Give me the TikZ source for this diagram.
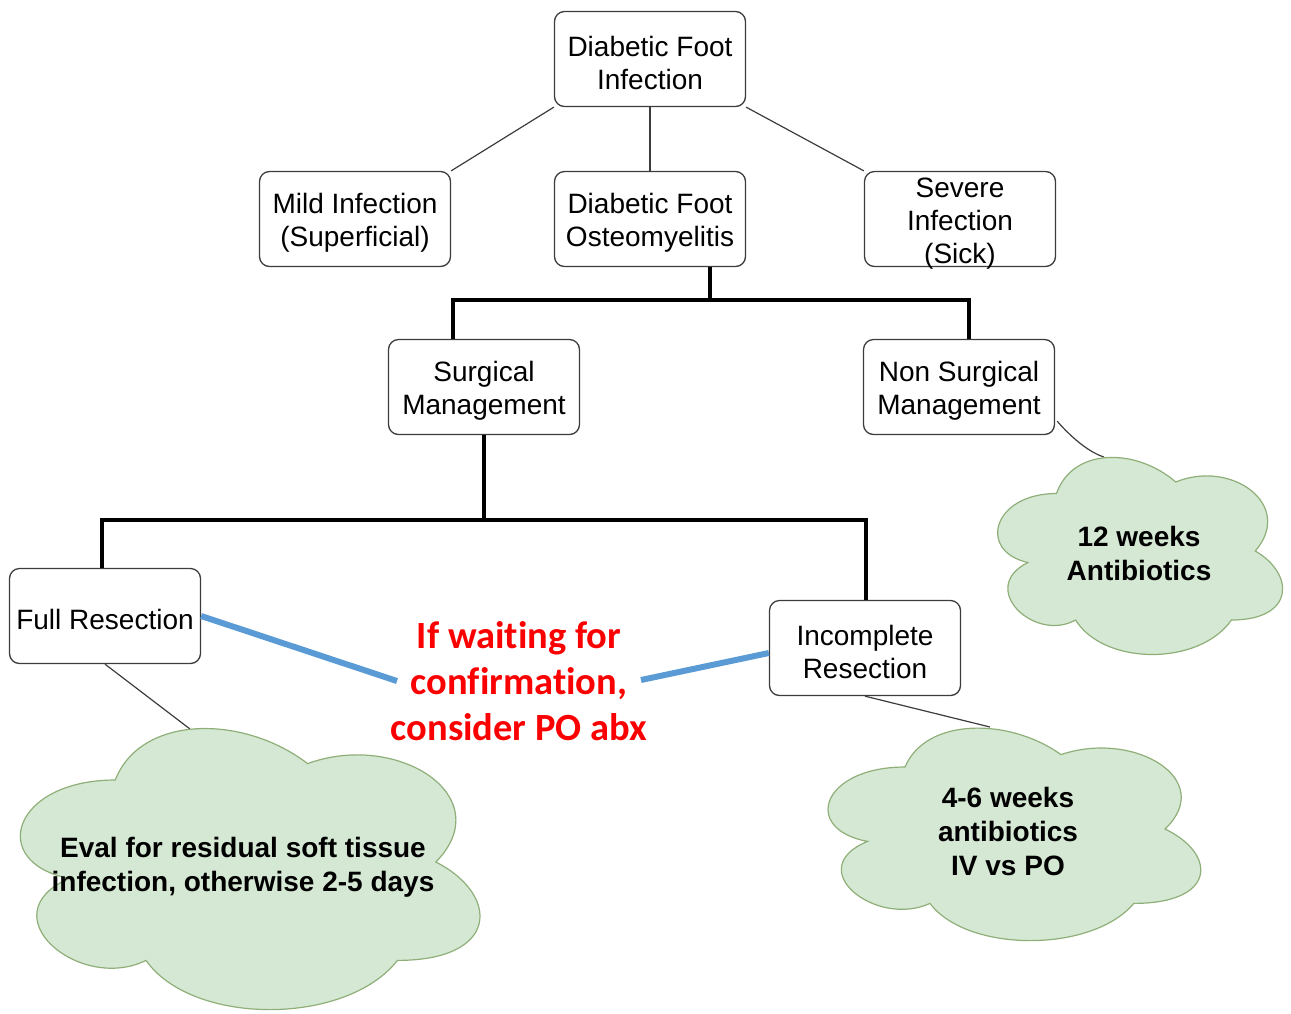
\documentclass[tikz,border=0pt]{standalone}
\usepackage{fontspec}
\setmainfont{Liberation Sans}
\newfontfamily\calibri[Ligatures=NoCommon]{Carlito}
\usetikzlibrary{calc,backgrounds}
\definecolor{boxline}{HTML}{3C3C3C}
\definecolor{cloudfill}{HTML}{D5E8D4}
\definecolor{cloudline}{HTML}{8FAF78}
\definecolor{bluelink}{HTML}{5B9BD5}
\definecolor{warnred}{HTML}{FA0000}
\newcommand\tp{\rule{0pt}{27.5pt}}
\tikzset{
  box/.style={draw=boxline, line width=1.3pt, rounded corners=10pt, fill=white,
    minimum width=191pt, minimum height=95pt, align=center, inner sep=0pt,
    font=\fontsize{28}{33}\selectfont},
  link/.style={draw=boxline, line width=1.2pt},
  bus/.style={draw=black, line width=4pt},
  cloudshape/.style={fill=cloudfill, draw=cloudline, line width=1.2pt},
  cloudtext/.style={align=center, inner sep=0pt, font=\fontsize{28}{34}\selectfont\bfseries},
  warntext/.style={text=warnred, align=center, inner sep=0pt,
    font=\calibri\bfseries\fontsize{38.5}{46}\selectfont},
  bluelinkstyle/.style={draw=bluelink, line width=6pt}
}
\newcommand\drawiocloud[4]{%
  \begin{scope}[shift={(#1,#2)},x=#3pt,y=-#4pt]
    \filldraw[cloudshape] (0.25,0.25)
      .. controls (0.05,0.25) and (0,0.5) .. (0.16,0.55)
      .. controls (0,0.66) and (0.18,0.9) .. (0.31,0.8)
      .. controls (0.4,1) and (0.7,1) .. (0.8,0.8)
      .. controls (1,0.8) and (1,0.6) .. (0.875,0.5)
      .. controls (1,0.3) and (0.8,0.1) .. (0.625,0.2)
      .. controls (0.5,0.05) and (0.3,0.05) .. (0.25,0.25) -- cycle;
  \end{scope}}
\begin{document}
\begin{tikzpicture}[x=1pt,y=-1pt]
\useasboundingbox (0,0) rectangle (1291,1013);
% clouds
\drawiocloud{977}{436}{318}{230}
\drawiocloud{-13}{698}{513}{328}
\drawiocloud{801}{705}{416}{248}
\node[cloudtext] (cl1) at (1139,553) {12 weeks\\Antibiotics};
\node[cloudtext] (cl2) at (243,867) {Eval for residual soft tissue\\infection, otherwise 2-5 days};
\node[cloudtext] (cl3) at (1008,831) {4-6 weeks\\antibiotics\\IV vs PO};
\coordinate (cl1top) at (1104,457);
\coordinate (cl2top) at (190,729);
\coordinate (cl3top) at (990,727);
% boxes
\node[box] (dfi)  at (650,59)  {\tp Diabetic Foot\\Infection};
\node[box] (mild) at (355,219) {\tp Mild Infection\\(Superficial)};
\node[box] (dfo)  at (650,219) {\tp Diabetic Foot\\Osteomyelitis};
\node[box] (sev)  at (960,219) {};
\node[font=\fontsize{28}{33}\selectfont, align=center, inner sep=0pt] (sevt) at (960,224) {Severe\\Infection\\(Sick)};
\node[box] (surg) at (484,387) {\tp Surgical\\Management};
\node[box] (nons) at (959,387) {\tp Non Surgical\\Management};
\node[box] (full) at (105,616) {\tp Full Resection};
\node[box] (inc)  at (865,648) {\tp Incomplete\\Resection};
% red note
\node[warntext] (warn) at (519,681) {If waiting for\\confirmation,\\consider PO abx};
\coordinate (bL) at (397,681);
\coordinate (bR) at (641,680);
\begin{scope}[on background layer]
  \draw[link] (dfi.south west) -- (mild.north east);
  \draw[link] (dfi.south) -- (dfo.north);
  \draw[link] (dfi.south east) -- (sev.north west);
  \draw[link] (full.south) -- (cl2top);
  \draw[link] (inc.south) -- (cl3top);
  \draw[link] ($(nons.south east)+(2,-14)$) .. controls (1070,436) and (1088,452) .. (cl1top);
\end{scope}
% bus lines
\draw[bus] ($(dfo.south)+(60,0)$) -- ++(0,35);
\draw[bus] ($(surg.north)+(-31,0)$) |- ($(nons.north)+(10,-39)$) -- ($(nons.north)+(10,0)$);
\draw[bus] (surg.south) -- ++(0,86);
\draw[bus] ($(full.north)+(-3,0)$) |- ($(inc.north)+(1,-80)$) -- ($(inc.north)+(1,0)$);
% blue links
\draw[bluelinkstyle] (full.east) -- (bL);
\draw[bluelinkstyle] (bR) -- ($(inc.west)+(0,5)$);
\end{tikzpicture}
\end{document}
